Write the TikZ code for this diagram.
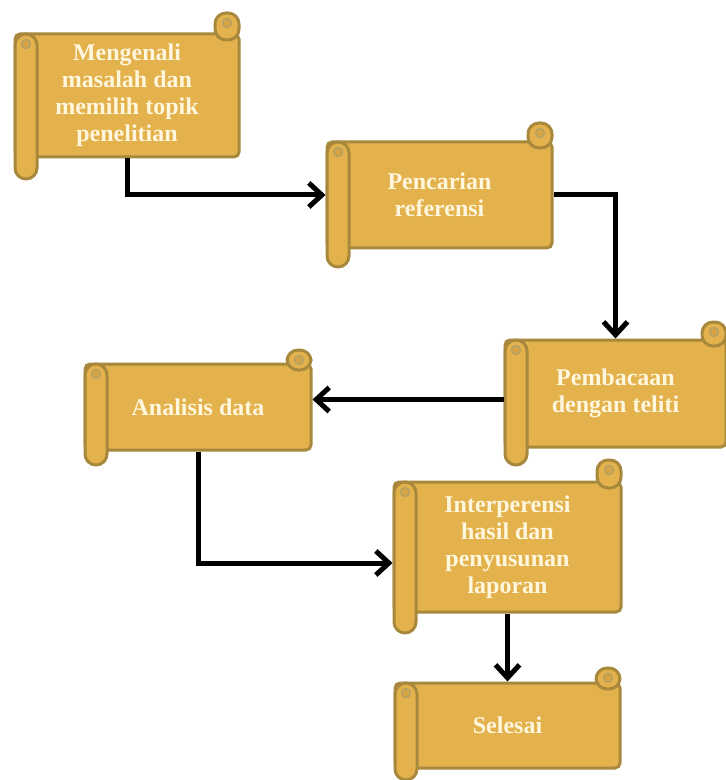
\documentclass[tikz,border=0pt]{standalone}
\usepackage{fontspec}
\setmainfont{Liberation Serif}
\usepackage{xcolor}
\usetikzlibrary{arrows.meta}
\definecolor{emas}{RGB}{227,178,76}
\definecolor{tepi}{RGB}{168,136,60}
\definecolor{krem}{RGB}{255,246,222}
\definecolor{lipat}{RGB}{214,164,66}
\tikzset{
  badan/.style={fill=emas,draw=tepi,line width=1.5pt,rounded corners=2.5pt,text=krem,
    font=\bfseries\fontsize{12}{13.5}\selectfont,align=center,inner sep=0pt},
  gulung/.style={fill=emas,draw=tepi,line width=1.5pt,rounded corners=5.5pt},
  lipatan/.style={fill=lipat,draw=tepi!80,line width=0.8pt},
  panah/.style={line width=2.5pt,-{Straight Barb[length=6.5pt,width=12pt]}}
}
% #1 nama, #2 kiri, #3 atas gulungan, #4 atas, #5 kanan, #6 bawah, #7 bawah gulungan, #8 teks
\newcommand{\gulungan}[8]{
  \node[badan,minimum width={(#5-#2)*0.5pt},minimum height={(#6-#4)*0.5pt}] (#1) at ({(#2+#5)/2},{(#4+#6)/2}) {#8};
  \draw[gulung] (#5-24,#3) rectangle (#5,#4+6);
  \draw[lipatan] (#5-12,#3+10) circle (2.2pt);
  \draw[gulung] (#2,#4) rectangle (#2+22,#7);
  \draw[lipatan] (#2+11,#4+10) circle (2.2pt);
}
\begin{document}
\begin{tikzpicture}[x=0.5pt,y=-0.5pt]
		\useasboundingbox (0,0) rectangle (726,780);
		%gulungan
		\gulungan{m-1}{15}{13}{34}{239}{157}{179}{Mengenali\\masalah dan\\memilih topik\\penelitian}
		\gulungan{m-2}{327}{123}{142}{552}{248}{267}{Pencarian\\referensi}
		\gulungan{m-3}{505}{322}{340}{726}{447}{465}{Pembacaan\\dengan teliti}
		\gulungan{m-4}{85}{350}{364}{311}{450}{465}{Analisis data}
		\gulungan{m-5}{394}{460}{482}{621}{612}{633}{Interperensi\\hasil dan\\penyusunan\\laporan}
		\gulungan{m-6}{395}{668}{683}{620}{768}{780}{Selesai}
		%panah
		\draw[panah] (m-1.south) |- (m-2.west);
		\draw[panah] (m-2.east) -| (m-3.north);
		\draw[panah] ([yshift=-3pt]m-3.west) -- ([yshift=-3pt]m-3.west -| m-4.east);
		\draw[panah] (m-4.south) |- ([yshift=-8pt]m-5.west);
		\draw[panah] (m-5.south) -- (m-6.north);
	\end{tikzpicture}
\end{document}
